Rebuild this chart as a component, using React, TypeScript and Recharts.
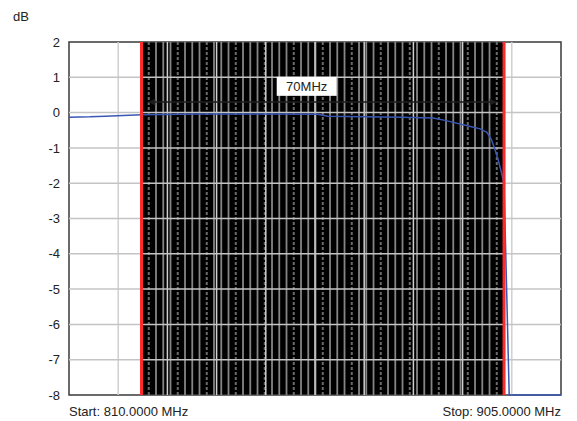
import React from 'react'
import { LineChart, Line, XAxis, YAxis, ReferenceLine, ReferenceArea, ReferenceDot } from 'recharts'

// sweep readout (MHz -> dB)
const freqMHz = [810, 814, 817, 824, 835, 850, 858, 860, 874, 880.3, 882.6, 886.9, 889.4, 890.7, 891.5, 892.1, 892.8, 893.4, 894, 895, 905]
const gainDb = [-0.13, -0.12, -0.1, -0.06, -0.04, -0.04, -0.05, -0.1, -0.13, -0.15, -0.22, -0.37, -0.46, -0.56, -0.75, -0.98, -1.3, -1.64, -2.0, -8, -8]

const yTicks = [-8, -7, -6, -5, -4, -3, -2, -1, 0, 1, 2]
const xGrid = [819.5, 829, 838.5, 848, 857.5, 867, 876.5, 886, 895.5]
const markers = [824, 894]
const START = 810
const STOP = 905

// dense marker-band stripes, every 4th one dashed
const STRIPE_STEP = 1.4
const stripes = Array.from({ length: 50 }, (_, i) => markers[0] + STRIPE_STEP * (i + 1)).filter(f => f < markers[1])

const FONT = '"Liberation Sans", Arial, sans-serif'

const data = freqMHz.map((f, i) => ({ f, db: gainDb[i] }))

function EdgeTick(props: any) {
  const { x, y, payload } = props
  const isStart = payload.value === START
  return (
    <text
      x={x}
      y={y + 13}
      textAnchor={isStart ? 'start' : 'end'}
      fontSize={13}
      fontFamily={FONT}
      fill="#222"
    >
      {isStart ? `Start: ${START.toFixed(4)} MHz` : `Stop: ${STOP.toFixed(4)} MHz`}
    </text>
  )
}

function SpanArrow(props: any) {
  const { x1, y1, x2, y2 } = props
  if (x1 == null) return null
  return (
    <g>
      <line x1={x1} y1={y1} x2={x2} y2={y2} stroke="#1e1e1e" strokeWidth={1.5} />
      <path d={`M${x1},${y1} l7,-3.5 l0,7 z`} fill="#1e1e1e" />
      <path d={`M${x2},${y2} l-7,-3.5 l0,7 z`} fill="#1e1e1e" />
    </g>
  )
}

function SpanLabel(props: any) {
  const { cx, cy } = props
  return (
    <g>
      <rect x={cx - 30} y={cy - 10} width={60} height={19} fill="#fff" />
      <text x={cx} y={cy + 4.5} textAnchor="middle" fontSize={13} fontFamily={FONT} fill="#222">70MHz</text>
    </g>
  )
}

export default function App() {
  return (
    <div style={{ position: 'absolute', left: 0, top: 0, width: 577, height: 421, background: '#fff', fontFamily: FONT }}>
      <div style={{ position: 'absolute', left: 13, top: 9, fontSize: 13, color: '#222' }}>dB</div>
      <LineChart width={577} height={421} data={data} margin={{ top: 42, right: 16, bottom: 0, left: 0 }}>
        <XAxis
          dataKey="f"
          type="number"
          domain={[START, STOP]}
          ticks={[START, STOP]}
          tick={<EdgeTick />}
          axisLine={false}
          tickLine={false}
          height={26}
          interval={0}
        />
        <YAxis
          type="number"
          domain={[-8, 2]}
          ticks={yTicks}
          width={69}
          axisLine={false}
          tickLine={false}
          tickSize={8}
          tickMargin={1}
          tick={{ fontSize: 13, fill: '#222', fontFamily: FONT }}
          interval={0}
        />
        <ReferenceArea x1={markers[0]} x2={markers[1]} y1={-8} y2={2} fill="#000" fillOpacity={1} stroke="none" />
        {stripes.map((f, i) => (
          <ReferenceLine
            key={'s' + i}
            x={f}
            stroke={i % 4 === 0 ? '#6a6a6a' : '#858585'}
            strokeWidth={i % 4 === 0 ? 2 : 1.8}
            strokeDasharray={i % 4 === 0 ? '3 2' : undefined}
          />
        ))}
        {xGrid.map(f => (
          <ReferenceLine key={'gx' + f} x={f} stroke="#cfcfcf" strokeWidth={1.5} />
        ))}
        {yTicks.slice(1, -1).map(v => (
          <ReferenceLine key={'gy' + v} y={v} stroke="#c4c4c4" strokeWidth={1.5} />
        ))}
        <ReferenceLine segment={[{ x: 825.3, y: 0.3 }, { x: 892.6, y: 0.3 }]} shape={<SpanArrow />} />
        <ReferenceDot x={855.9} y={0.73} r={1} shape={<SpanLabel />} />
        <Line
          dataKey="db"
          type="linear"
          stroke="#3a57b5"
          strokeWidth={1.5}
          dot={false}
          isAnimationActive={false}
        />
        {markers.map(f => (
          <ReferenceLine key={'m' + f} x={f} stroke="#ff2b2b" strokeWidth={3} />
        ))}
        <ReferenceArea x1={START} x2={STOP} y1={-8} y2={2} fill="none" stroke="#3a3a3a" strokeWidth={1.5} />
      </LineChart>
    </div>
  )
}
